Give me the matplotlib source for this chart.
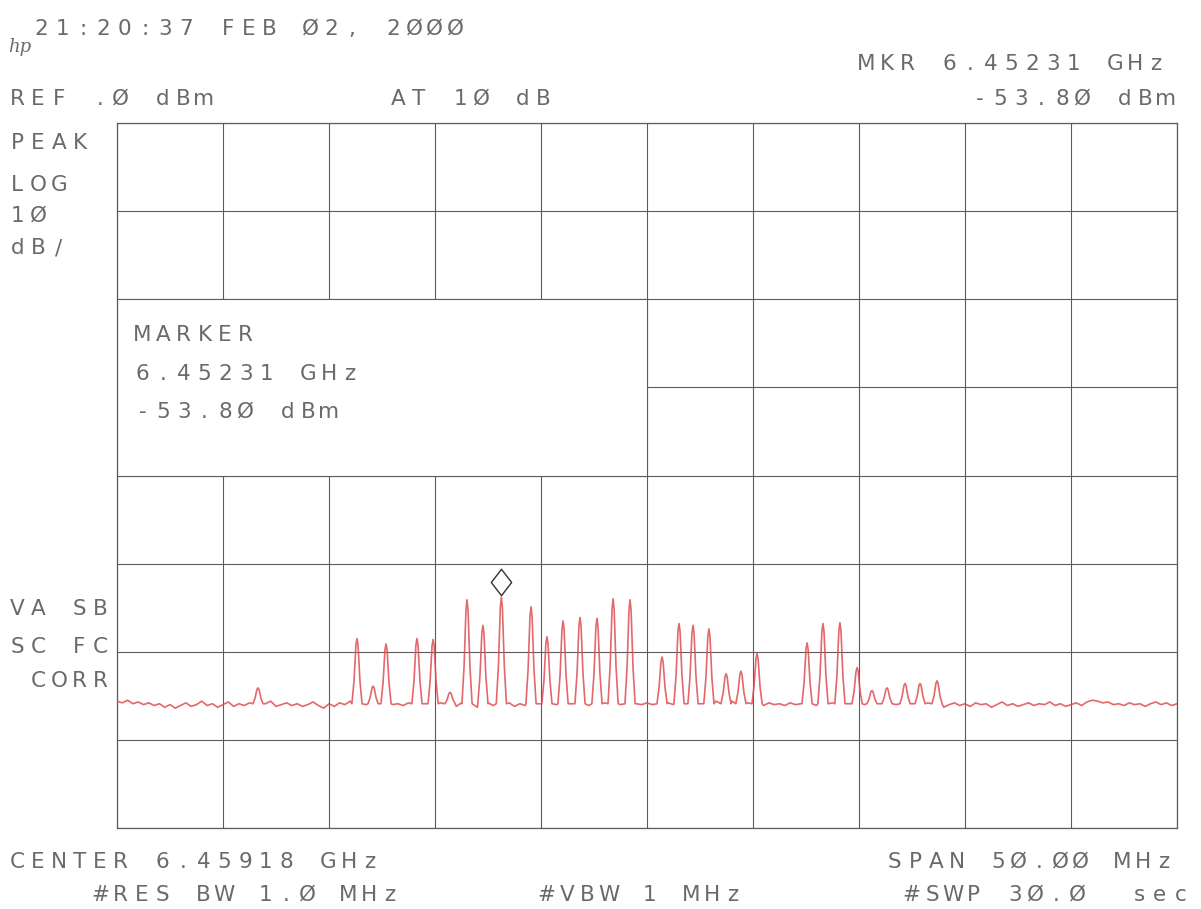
"""
spectrum analyzer plot (HP style screen dump) recreated with matplotlib
"""
import numpy as np
import matplotlib
matplotlib.use('Agg')
import matplotlib.pyplot as plt
from matplotlib.patches import Rectangle
from matplotlib.path import Path
from matplotlib import transforms

# instrument settings
center_ghz = 6.45918
span_mhz = 50.0
ref_dbm = 0.0
db_per_div = 10
marker_mhz = -6.87      # offset from center, 6.45231 GHz
marker_dbm = -53.80

# noise floor, one point every 0.25 MHz from -25 to +25 MHz (offset from center)
floor_dbm = [
    -65.6, -65.8, -65.5, -65.9, -65.7, -66.0, -65.8, -66.1, -65.9, -66.3,
    -66.0, -66.4, -66.1, -65.8, -66.2, -66.0, -65.6, -66.1, -65.9, -66.3,
    -66.0, -65.7, -66.2, -65.9, -66.1, -65.8, -66.0, -66.3, -65.9, -65.6,
    -66.2, -66.0, -65.8, -66.1, -65.9, -66.2, -66.0, -65.7, -66.1, -66.4,
    -65.9, -66.2, -65.8, -66.0, -65.6, -66.1, -65.9, -66.0, -65.7, -65.9,
    -66.2, -65.8, -66.0, -65.9, -66.1, -65.8, -66.0, -65.7, -65.9, -66.1,
    -66.0, -65.8, -66.1, -65.9, -66.2, -65.8, -66.0, -65.9, -66.3, -66.0,
    -65.8, -66.1, -65.9, -66.0, -65.8, -66.2, -65.9, -66.1, -65.8, -66.0,
    -65.9, -66.1, -65.8, -66.0, -65.9, -66.2, -65.9, -66.0, -65.8, -66.1,
    -65.9, -66.0, -65.8, -66.2, -65.9, -66.0, -65.8, -66.1, -65.9, -66.0,
    -65.8, -66.0, -65.9, -66.1, -65.8, -66.0, -65.9, -66.2, -65.8, -66.0,
    -65.9, -66.1, -65.7, -65.6, -65.5, -65.7, -65.6, -65.9, -66.0, -65.8,
    -66.0, -65.9, -66.1, -65.8, -66.0, -65.9, -66.1, -65.8, -66.0, -65.9,
    -66.2, -65.8, -66.1, -65.9, -66.0, -65.8, -66.2, -66.0, -65.9, -66.1,
    -65.8, -66.0, -65.7, -66.1, -65.9, -66.2, -65.8, -66.0, -65.7, -66.1,
    -65.9, -66.2, -66.0, -65.8, -66.1, -65.9, -66.3, -66.0, -65.8, -66.1,
    -65.9, -66.2, -65.8, -66.0, -65.9, -66.3, -66.0, -65.7, -66.1, -65.9,
    -66.2, -66.0, -65.8, -66.1, -65.9, -66.0, -65.7, -66.1, -65.9, -66.2,
    -66.0, -65.8, -66.1, -65.7, -65.5, -65.6, -65.8, -65.7, -66.0, -65.9,
    -66.1, -65.8, -66.0, -65.9, -66.2, -65.9, -65.7, -66.0, -65.8, -66.1,
    -65.9,
]

# spectral lines: offset from center (MHz) and peak level (dBm)
peak_mhz = [-18.35, -13.68, -12.92, -12.31, -10.85, -10.09, -9.29, -8.49,
            -7.74, -6.87, -5.47, -4.72, -3.96, -3.16, -2.36, -1.60, -0.80,
            0.71, 1.51, 2.17, 2.92, 3.73, 4.43, 5.19, 7.55, 8.30, 9.10,
            9.91, 10.61, 11.32, 12.17, 12.88, 13.68]
peak_dbm = [-64.1, -58.5, -63.9, -59.1, -58.5, -58.6, -64.6, -54.1,
            -57.0, -53.8, -54.9, -58.3, -56.5, -56.1, -56.2, -54.0, -54.1,
            -60.6, -56.8, -57.0, -57.4, -62.5, -62.2, -60.2, -59.0, -56.8, -56.7,
            -61.8, -64.4, -64.1, -63.6, -63.6, -63.3]

W, H = 1201, 909
TXT = '#6a6a6a'
GRID = '#5c5c5c'
PITCH = 20.7

fig = plt.figure(figsize=(W / 100, H / 100), dpi=100)
ax = fig.add_axes([117 / W, 1 - 828 / H, (1177 - 117) / W, (828 - 123) / H])

# build trace: floor points, with each spectral line cut in as a narrow spike
floor_mhz = np.linspace(-span_mhz / 2, span_mhz / 2, len(floor_dbm))
half_w = 0.24
base = -65.9
shape_dx = [-0.24, -0.14, -0.05, 0.0, 0.05, 0.14, 0.24]
shape_frac = [0.0, 0.35, 0.9, 1.0, 0.9, 0.35, 0.0]

pts = []
for f, v in zip(floor_mhz, floor_dbm):
    if all(abs(f - p) > half_w for p in peak_mhz):
        pts.append((f, v))
for p, lvl in zip(peak_mhz, peak_dbm):
    for dx, fr in zip(shape_dx, shape_frac):
        pts.append((p + dx, base + fr * (lvl - base)))
pts.sort()
tx = [p[0] for p in pts]
ty = [p[1] for p in pts]

ax.plot(tx, ty, color='#e04c50', lw=1.2, alpha=0.85, zorder=3)

# axes / grid like the analyzer graticule
ax.set_xlim(-span_mhz / 2, span_mhz / 2)
ax.set_ylim(ref_dbm - 8 * db_per_div, ref_dbm)
ax.set_xticks(np.arange(-25, 26, 5))
ax.set_yticks(np.arange(-80, 1, 10))
ax.tick_params(length=0, labelbottom=False, labelleft=False)
ax.grid(True, color=GRID, lw=0.8)
ax.set_axisbelow(True)
for s in ax.spines.values():
    s.set_color(GRID)
    s.set_linewidth(0.9)

# blank marker readout box (hides the graticule)
ax.add_patch(Rectangle((-25, -40), 25, 20, facecolor='white', edgecolor=GRID,
                       lw=0.8, zorder=1.5))

# marker diamond just above the marker peak
diamond = Path([(0, 1), (0.77, 0), (0, -1), (-0.77, 0), (0, 1)],
               [Path.MOVETO, Path.LINETO, Path.LINETO, Path.LINETO, Path.CLOSEPOLY])
tr = transforms.offset_copy(ax.transData, fig=fig, y=15, units='dots')
ax.plot([marker_mhz], [marker_dbm], marker=diamond, ms=19, mfc='white',
        mec='#333333', mew=1.0, transform=tr, zorder=4)


def screen_text(s, x0, base_y):
    # plotter style text: every character in a fixed cell
    for i, ch in enumerate(s):
        if ch == ' ':
            continue
        fig.text((x0 + i * PITCH + PITCH / 2) / W, 1 - base_y / H, ch,
                 ha='center', va='baseline', family='DejaVu Sans',
                 fontsize=15.5, color=TXT)


screen_text('21:20:37 FEB \u00d82, 2\u00d8\u00d8\u00d8', 31, 35)
fig.text(20 / W, 1 - 52 / H, 'hp', ha='center', va='baseline', style='italic',
         fontsize=13, color=TXT, family='DejaVu Serif')
screen_text('MKR 6.45231 GHz', 856, 70)
screen_text('REF .\u00d8 dBm', 7, 105)
screen_text('AT 1\u00d8 dB', 388, 105)
screen_text('-53.8\u00d8 dBm', 969, 105)

screen_text('PEAK', 7, 149)
screen_text('LOG', 7, 191)
screen_text('1\u00d8', 7, 222)
screen_text('dB/', 7, 254)

screen_text('MARKER', 132, 341)
screen_text('6.45231 GHz', 132, 380)
screen_text('-53.8\u00d8 dBm', 132, 418)

screen_text('VA SB', 7, 615)
screen_text('SC FC', 7, 653)
screen_text(' CORR', 7, 687)

screen_text('CENTER 6.45918 GHz', 7, 868)
screen_text('SPAN 5\u00d8.\u00d8\u00d8 MHz', 884, 868)
screen_text('    #RES BW 1.\u00d8 MHz', 7, 901)
screen_text('#VBW 1 MHz', 536, 901)
screen_text('#SWP 3\u00d8.\u00d8  sec', 901, 901)

fig.savefig('out.png', dpi=100, facecolor='white')
